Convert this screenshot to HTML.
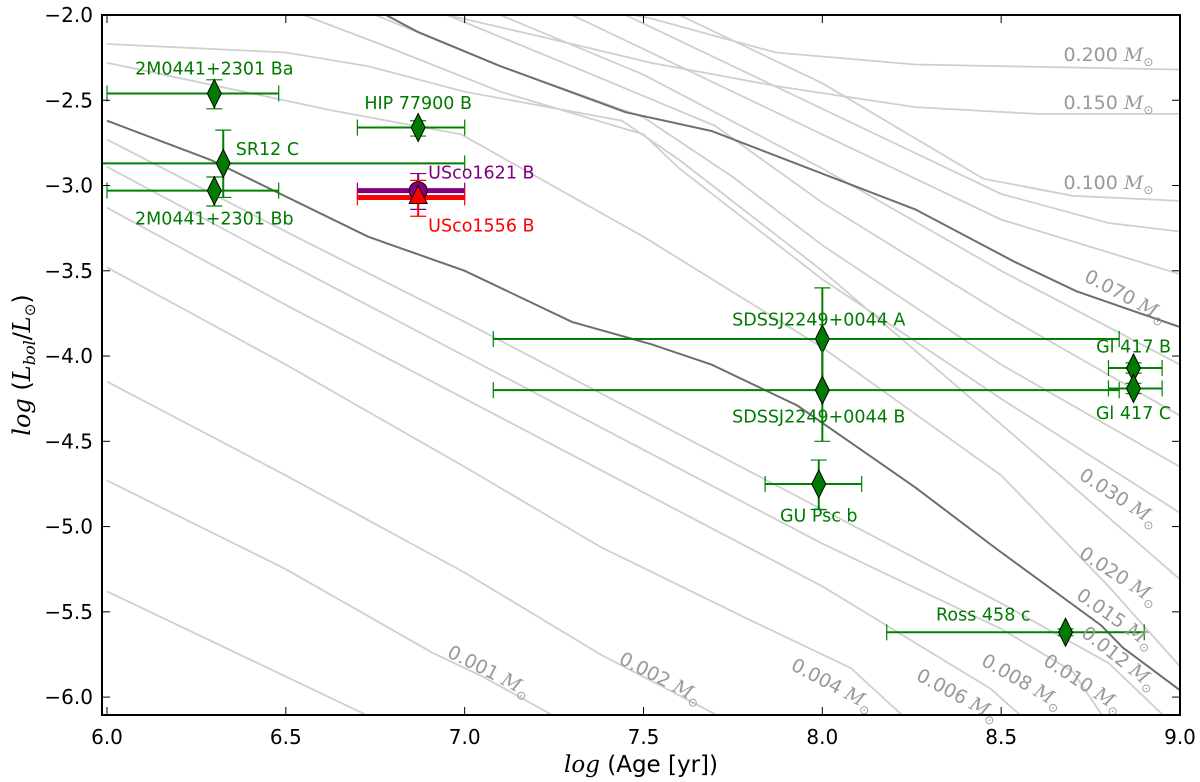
<!DOCTYPE html>
<html><head><meta charset="utf-8"><style>
html,body{margin:0;padding:0;background:#fff;}
svg{display:block;font-family:"DejaVu Sans","Liberation Sans",sans-serif;}
.tk{font-size:20px;fill:#000;}
.gl{font-size:17.5px;fill:#007a00;}
.ml{font-size:19px;fill:#999;}
.it{font-family:"DejaVu Serif","Liberation Serif",serif;font-style:italic;}
</style></head><body>
<svg id="chart" width="1200" height="782" viewBox="0 0 1200 782">
<g id="tracks"></g>
<g id="points"></g>
<g id="labels"></g>
<g id="axes"></g>
</svg>
<script>
// ---- data ----
const trackNames = ["0.0005","0.001","0.002","0.004","0.006","0.008","0.010","0.012","0.015","0.020","0.030","0.040","0.050","0.060","0.070","0.080","0.090","0.100","0.150","0.200"];
const trackDark = ["0.012","0.070"];
const trackPts = {
"0.0005":[[6.0,-5.38],[6.3,-5.68],[6.72,-6.1]],
"0.001":[[6.0,-4.73],[6.5,-5.25],[6.91,-5.74],[7.05,-5.88],[7.24,-6.1]],
"0.002":[[6.0,-4.15],[6.5,-4.7],[7.0,-5.27],[7.38,-5.75],[7.7,-6.1]],
"0.004":[[6.0,-3.48],[6.5,-4.05],[7.0,-4.65],[7.38,-5.12],[7.8,-5.55],[8.08,-5.83],[8.22,-6.1]],
"0.006":[[6.0,-3.13],[6.5,-3.7],[7.0,-4.25],[7.5,-4.8],[8.0,-5.35],[8.47,-5.95],[8.55,-6.1]],
"0.008":[[6.0,-2.89],[6.5,-3.45],[7.0,-4.0],[7.5,-4.55],[8.0,-5.1],[8.5,-5.6],[8.7,-5.85],[8.78,-6.1]],
"0.010":[[6.0,-2.73],[6.5,-3.27],[7.0,-3.8],[7.5,-4.35],[8.0,-4.9],[8.5,-5.45],[8.8,-5.8],[8.95,-6.1]],
"0.012":[[6.0,-2.62],[6.29,-2.85],[6.73,-3.3],[7.0,-3.5],[7.3,-3.8],[7.52,-3.93],[7.69,-4.05],[7.93,-4.29],[8.26,-4.77],[8.48,-5.12],[8.78,-5.58],[8.84,-5.71],[9.0,-5.96]],
"0.015":[[6.0,-2.28],[6.63,-2.56],[6.99,-2.7],[7.5,-3.3],[8.0,-3.95],[8.5,-4.7],[8.8,-5.35],[9.0,-5.82]],
"0.020":[[6.0,-2.17],[6.5,-2.22],[6.73,-2.3],[7.0,-2.45],[7.44,-2.62],[7.6,-2.85],[8.0,-3.5],[8.5,-4.4],[9.0,-5.31]],
"0.030":[[6.55,-2.0],[6.8,-2.2],[7.1,-2.45],[7.5,-2.7],[7.6,-2.9],[8.0,-3.55],[8.5,-4.25],[9.0,-4.92]],
"0.040":[[6.75,-2.0],[7.1,-2.3],[7.5,-2.6],[7.75,-2.95],[8.0,-3.35],[8.5,-4.05],[9.0,-4.65]],
"0.050":[[6.95,-2.0],[7.3,-2.3],[7.7,-2.65],[8.0,-3.1],[8.5,-3.75],[9.0,-4.35]],
"0.060":[[7.1,-2.0],[7.5,-2.35],[8.0,-2.9],[8.5,-3.5],[9.0,-4.05]],
"0.070":[[6.78,-2.0],[6.87,-2.1],[7.1,-2.3],[7.45,-2.57],[7.69,-2.68],[8.26,-3.14],[8.54,-3.45],[8.71,-3.62],[9.0,-3.83]],
"0.080":[[7.3,-2.0],[8.0,-2.7],[8.5,-3.2],[9.0,-3.52]],
"0.090":[[7.45,-2.0],[8.0,-2.55],[8.5,-3.05],[8.8,-3.22],[9.0,-3.27]],
"0.100":[[7.6,-2.0],[8.0,-2.4],[8.45,-2.96],[8.7,-3.06],[9.0,-3.09]],
"0.150":[[6.95,-2.0],[7.2,-2.12],[7.52,-2.28],[7.88,-2.42],[8.26,-2.54],[8.6,-2.58],[9.0,-2.58]],
"0.200":[[7.4,-1.97],[7.52,-2.02],[7.87,-2.22],[8.26,-2.29],[9.0,-2.32]]
};
// track label: [mass, age, logL, angle]
const trackLabels = [
["0.200",8.8,-2.27,0],["0.150",8.8,-2.55,0],["0.100",8.8,-3.02,0],
["0.070",8.84,-3.68,28],["0.030",8.82,-4.86,33],["0.020",8.82,-5.32,33],
["0.015",8.81,-5.57,35],["0.012",8.82,-5.8,38],["0.010",8.72,-5.95,33],
["0.008",8.55,-5.94,30],["0.006",8.37,-6.02,28],["0.004",8.02,-5.96,28],
["0.002",7.54,-5.92,27],["0.001",7.06,-5.88,27]
];
const objNames = ["2M0441+2301 Ba","2M0441+2301 Bb","SR12 C","HIP 77900 B","SDSSJ2249+0044 A","SDSSJ2249+0044 B","GU Psc b","Gl 417 B","Gl 417 C","Ross 458 c"];
const objAge = [6.3,6.3,6.325,6.87,8.0,8.0,7.99,8.87,8.87,8.68];
const objL = [-2.46,-3.03,-2.87,-2.66,-3.9,-4.2,-4.75,-4.07,-4.19,-5.62];
const objAgeLo = [6.0,6.0,5.9,6.7,7.08,7.08,7.84,8.8,8.8,8.18];
const objAgeHi = [6.48,6.48,7.0,7.0,8.83,8.83,8.11,8.95,8.95,8.9];
const objLHi = [-2.38,-2.95,-2.675,-2.62,-3.6,-3.9,-4.61,-4.04,-4.16,-5.6];
const objLLo = [-2.55,-3.12,-3.07,-2.71,-4.2,-4.5,-4.9,-4.1,-4.22,-5.64];
const objLabelPos = [[6.3,-2.35,"middle"],[6.3,-3.23,"middle"],[6.36,-2.82,"start"],[6.87,-2.55,"middle"],[7.99,-3.82,"middle"],[7.99,-4.39,"middle"],[7.99,-4.97,"middle"],[8.975,-3.98,"end"],[8.975,-4.37,"end"],[8.45,-5.55,"middle"]];
const uscoNames = ["USco1621 B","USco1556 B"];
const uscoAge = [6.87,6.87];
const uscoL = [-3.03,-3.07];
const uscoLHi = [-2.93,-2.97];
const uscoLLo = [-3.14,-3.18];
const uscoAgeLo = [6.7,6.7];
const uscoAgeHi = [7.0,7.0];
const xTicks = [6.0,6.5,7.0,7.5,8.0,8.5,9.0];
const yTicks = [-2.0,-2.5,-3.0,-3.5,-4.0,-4.5,-5.0,-5.5,-6.0];

// ---- axes functions ----
const X0=102,X1=1180,Y0=15,Y1=715;
const xmin=5.986,xmax=9.0,ymax=-2.0,ymin=-6.105;
function X(a){return X0+(a-xmin)/(xmax-xmin)*(X1-X0);}
function Y(l){return Y0+(ymax-l)/(ymax-ymin)*(Y1-Y0);}
const NS="http://www.w3.org/2000/svg";
function mk(tag,parent,attrs){const e=document.createElementNS(NS,tag);for(const k in attrs)e.setAttribute(k,attrs[k]);parent.appendChild(e);return e;}

const clipDefs=mk("defs",document.getElementById("chart"),{});
const cp=mk("clipPath",clipDefs,{id:"plotclip"});
mk("rect",cp,{x:X0,y:Y0,width:X1-X0,height:Y1-Y0});

const gT=document.getElementById("tracks");
gT.setAttribute("clip-path","url(#plotclip)");
trackNames.forEach(n=>{
  const d=trackPts[n].map((p,i)=>(i?"L":"M")+X(p[0]).toFixed(1)+","+Y(p[1]).toFixed(1)).join(" ");
  const dark=trackDark.includes(n);
  const p=mk("path",gT,{d:d,fill:"none",stroke:dark?"#6e6e6e":"#cfcfcf","stroke-width":dark?2:1.8});
  
  
});
const gL=document.getElementById("labels");
trackLabels.forEach(t=>{
  const x=X(t[1]),y=Y(t[2]);
  const tx=mk("text",gL,{x:x,y:y,class:"ml","text-anchor":"middle",transform:`rotate(${t[3]} ${x} ${y})`});
  
  
  tx.innerHTML=t[0]+' <tspan class="it">M</tspan><tspan font-size="12" dy="5">&#8857;</tspan>';
});

const gP=document.getElementById("points");
gP.setAttribute("clip-path","url(#plotclip)");
function errbar(g,a,l,alo,ahi,lhi,llo,col,w,name){
  const grp=mk("g",g,{});
  
  
  mk("line",grp,{x1:X(alo),x2:X(ahi),y1:Y(l),y2:Y(l),stroke:col,"stroke-width":w});
  mk("line",grp,{x1:X(a),x2:X(a),y1:Y(lhi),y2:Y(llo),stroke:col,"stroke-width":2});
  [alo,ahi].forEach(v=>mk("line",grp,{x1:X(v),x2:X(v),y1:Y(l)-8,y2:Y(l)+8,stroke:col,"stroke-width":1.2}));
  [lhi,llo].forEach(v=>mk("line",grp,{x1:X(a)-8,x2:X(a)+8,y1:Y(v),y2:Y(v),stroke:col,"stroke-width":1.2}));
  return grp;
}
objNames.forEach((n,i)=>{
  const g=errbar(gP,objAge[i],objL[i],objAgeLo[i],objAgeHi[i],objLHi[i],objLLo[i],"#008000",2,"errorbar-"+i);
  const x=X(objAge[i]),y=Y(objL[i]);
  const dm=mk("polygon",g,{points:`${x},${y-14} ${x+7},${y} ${x},${y+14} ${x-7},${y}`,fill:"#007a00",stroke:"#000","stroke-width":1});
  
  
  const lp=objLabelPos[i];
  const t=mk("text",gL,{x:X(lp[0]),y:Y(lp[1]),class:"gl","text-anchor":lp[2]});
  
  
  t.textContent=n;
});
const uscoCol=["#800080","#ff0000"];
uscoNames.forEach((n,i)=>{
  errbar(gP,uscoAge[i],uscoL[i],uscoAgeLo[i],uscoAgeHi[i],uscoLHi[i],uscoLLo[i],uscoCol[i],5,"usco-errorbar-"+i);
});
{
  const x=X(uscoAge[0]),y=Y(uscoL[0]);
  const c=mk("circle",gP,{cx:x,cy:y,r:9,fill:"#800080",stroke:"#000","stroke-width":1});
  
  
  const x2=X(uscoAge[1]),y2=Y(uscoL[1]);
  const tr=mk("polygon",gP,{points:`${x2},${y2-12} ${x2+9},${y2+6} ${x2-9},${y2+6}`,fill:"#ff0000",stroke:"#000","stroke-width":1});
  
  
  const t1=mk("text",gL,{x:x+10,y:Y(-2.96),class:"gl",style:"fill:#800080"});
  
  
  t1.textContent=uscoNames[0];
  const t2=mk("text",gL,{x:x+10,y:Y(-3.27),class:"gl",style:"fill:#ff0000"});
  
  
  t2.textContent=uscoNames[1];
}
const gA=document.getElementById("axes");
const fr=mk("rect",gA,{x:X0,y:Y0,width:X1-X0,height:Y1-Y0,fill:"none",stroke:"#000","stroke-width":2});


xTicks.forEach(v=>{
  const x=X(v);
  mk("line",gA,{x1:x,x2:x,y1:Y1,y2:Y1-8,stroke:"#000","stroke-width":1});
  mk("line",gA,{x1:x,x2:x,y1:Y0,y2:Y0+8,stroke:"#000","stroke-width":1});
  const t=mk("text",gA,{x:x,y:Y1+29,class:"tk","text-anchor":"middle"});
  
  
  t.textContent=v.toFixed(1);
});
yTicks.forEach(v=>{
  const y=Y(v);
  mk("line",gA,{x1:X0,x2:X0+8,y1:y,y2:y,stroke:"#000","stroke-width":1});
  mk("line",gA,{x1:X1,x2:X1-8,y1:y,y2:y,stroke:"#000","stroke-width":1});
  const t=mk("text",gA,{x:X0-9,y:y+7,class:"tk","text-anchor":"end"});
  
  
  t.textContent=v.toFixed(1).replace("-","\u2212");
});
const xt=mk("text",gA,{x:641,y:772,"font-size":"23","text-anchor":"middle"});


xt.innerHTML='<tspan class="it">log</tspan> (Age [yr])';
const yt=mk("text",gA,{x:30,y:365,"font-size":"24","text-anchor":"middle",transform:"rotate(-90 30 365)"});


yt.innerHTML='<tspan class="it">log</tspan> (<tspan class="it">L</tspan><tspan class="it" font-size="16" dy="5">bol</tspan><tspan dy="-5">/</tspan><tspan class="it">L</tspan><tspan font-size="15" dy="5">&#8857;</tspan><tspan dy="-5">)</tspan>';
</script>
</body></html>
